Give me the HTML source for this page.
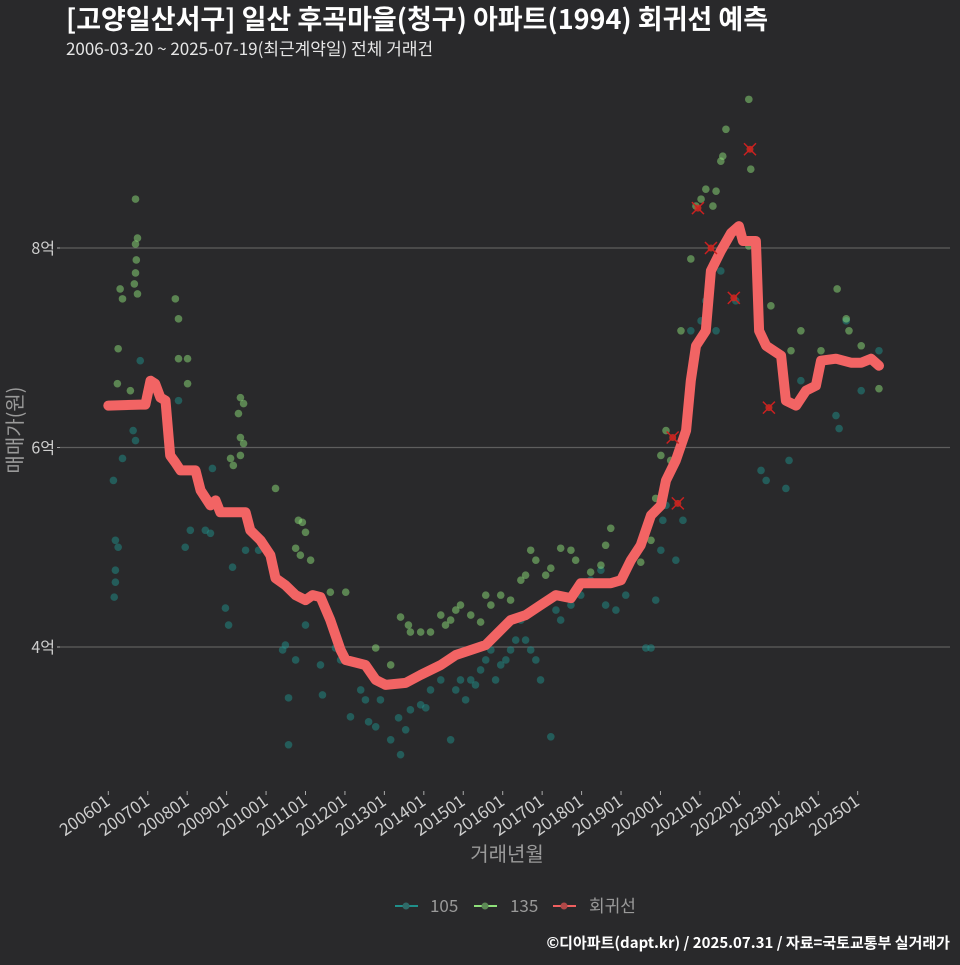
<!DOCTYPE html>
<html><head><meta charset="utf-8">
<style>
html,body{margin:0;padding:0;background:#29292b;}
body{width:960px;height:960px;overflow:hidden;font-family:"Noto Sans CJK KR","Liberation Sans",sans-serif;}
svg text{font-family:"Noto Sans CJK KR","Liberation Sans",sans-serif;}
</style></head>
<body>
<svg id="chart" width="960" height="960" viewBox="0 0 960 960">
<rect width="960" height="960" fill="#29292b"/>
<text x="66" y="29" fill="#ffffff" font-size="27" font-weight="bold">[고양일산서구] 일산 후곡마을(청구) 아파트(1994) 회귀선 예측</text>
<text x="66" y="55" fill="#e6e6e6" font-size="17">2006-03-20 ~ 2025-07-19(최근계약일) 전체 거래건</text>
<g id="grid"></g>
<g id="pts"></g>
<g id="line"></g>
<g id="outl"></g>
<g id="axes"></g>
<text x="507" y="861" fill="#9a9a9a" font-size="20" text-anchor="middle">거래년월</text>
<text transform="translate(22,430) rotate(-90)" fill="#9a9a9a" font-size="20" text-anchor="middle">매매가(원)</text>
<g>
<g><line x1="395" y1="906" x2="418" y2="906" stroke="#1f8f8a" stroke-width="2"/><circle cx="406" cy="906" r="3.5" fill="#2f6a68"/><text x="430" y="912" fill="#9a9a9a" font-size="17">105</text></g>
<g><line x1="474" y1="906" x2="497" y2="906" stroke="#8ee07a" stroke-width="2"/><circle cx="485" cy="906" r="3.5" fill="#5d8a56"/><text x="510" y="912" fill="#9a9a9a" font-size="17">135</text></g>
<g><line x1="553" y1="906" x2="576" y2="906" stroke="#f06060" stroke-width="2"/><circle cx="564" cy="906" r="3.5" fill="#b04848"/><text x="589" y="912" fill="#9a9a9a" font-size="17">회귀선</text></g>
</g>
<text x="950" y="948" fill="#ffffff" font-size="15" font-weight="bold" text-anchor="end">©디아파트(dapt.kr) / 2025.07.31 / 자료=국토교통부 실거래가</text>
</svg>
<script>
const yTicks=[4,6,8];
const xTickYears=[2006,2007,2008,2009,2010,2011,2012,2013,2014,2015,2016,2017,2018,2019,2020,2021,2022,2023,2024,2025];
const s105Year=[2006.13,2006.18,2006.25,2006.18,2006.18,2006.15,2006.36,2006.63,2006.69,2006.81,2007.78,2007.95,2008.08,2008.46,2008.59,2008.64,2008.97,2009.05,2009.15,2009.48,2009.81,2010.42,2010.49,2010.57,2010.57,2010.75,2011.00,2011.38,2011.43,2011.76,2011.89,2012.14,2012.40,2012.52,2012.60,2012.78,2012.90,2013.16,2013.36,2013.41,2013.54,2013.66,2013.92,2014.05,2014.17,2014.43,2014.68,2014.81,2014.93,2015.06,2015.19,2015.31,2015.44,2015.57,2015.70,2015.82,2015.95,2016.08,2016.20,2016.33,2016.46,2016.58,2016.71,2016.84,2016.96,2017.22,2017.35,2017.47,2017.73,2017.98,2018.23,2018.49,2018.61,2018.87,2019.12,2019.63,2019.76,2019.88,2020.01,2020.06,2020.14,2020.39,2020.57,2020.77,2021.03,2021.15,2021.41,2021.53,2021.91,2022.55,2022.68,2023.18,2023.26,2023.56,2024.45,2024.53,2024.71,2025.09,2025.54];
const s105Val=[5.67,5.07,5.00,4.77,4.65,4.50,5.89,6.17,6.07,6.87,6.47,5.00,5.17,5.17,5.14,5.79,4.39,4.22,4.80,4.97,4.97,3.97,4.02,3.49,3.02,3.87,4.22,3.82,3.52,3.99,3.87,3.30,3.57,3.47,3.25,3.20,3.47,3.07,3.29,2.92,3.17,3.37,3.42,3.39,3.57,3.67,3.07,3.57,3.67,3.47,3.67,3.62,3.77,3.87,3.97,3.67,3.82,3.87,3.97,4.07,4.27,4.07,3.97,3.87,3.67,3.10,4.37,4.27,4.42,4.52,4.67,4.77,4.42,4.37,4.52,3.99,3.99,4.47,4.97,5.27,5.42,4.87,5.27,7.17,7.27,7.47,7.17,7.77,7.47,5.77,5.67,5.59,5.87,6.67,6.32,6.19,7.27,6.57,6.97];
const s135Year=[2006.69,2006.74,2006.69,2006.71,2006.69,2006.66,2006.74,2006.30,2006.36,2006.25,2006.23,2006.56,2007.70,2007.78,2007.78,2008.01,2008.01,2009.35,2009.43,2009.30,2009.43,2009.35,2009.10,2009.17,2009.35,2010.24,2010.82,2010.92,2011.00,2010.75,2010.87,2011.13,2011.63,2012.02,2012.78,2013.16,2013.41,2013.61,2013.66,2013.92,2014.17,2014.43,2014.55,2014.68,2014.81,2014.93,2015.19,2015.44,2015.57,2015.70,2015.95,2016.20,2016.46,2016.58,2016.71,2016.84,2017.09,2017.22,2017.47,2017.73,2017.85,2018.23,2018.49,2018.61,2018.74,2019.12,2019.50,2019.76,2019.88,2020.01,2020.14,2020.26,2020.52,2020.77,2020.90,2021.03,2021.15,2021.33,2021.41,2021.53,2021.58,2021.66,2022.24,2022.29,2022.24,2022.80,2023.31,2023.56,2024.07,2024.48,2024.71,2024.78,2025.09,2025.34,2025.54];
const s135Val=[8.49,8.10,8.04,7.88,7.75,7.64,7.54,7.59,7.49,6.99,6.64,6.57,7.49,7.29,6.89,6.89,6.64,6.50,6.44,6.34,6.04,6.10,5.89,5.82,5.92,5.59,5.27,5.25,5.15,4.99,4.92,4.87,4.55,4.55,3.99,3.82,4.30,4.22,4.15,4.15,4.15,4.32,4.22,4.27,4.37,4.42,4.32,4.25,4.52,4.42,4.52,4.47,4.67,4.72,4.97,4.87,4.72,4.79,4.99,4.97,4.87,4.75,4.82,5.02,5.19,4.77,4.85,5.07,5.49,5.92,6.17,5.87,7.17,7.89,8.42,8.49,8.59,8.42,8.57,8.87,8.92,9.19,9.49,8.79,8.02,7.42,6.97,7.17,6.97,7.59,7.29,7.17,7.02,6.87,6.59];
const outYear=[2020.31,2020.44,2020.95,2021.28,2021.86,2022.27,2022.75];
const outVal=[6.10,5.44,8.40,8.00,7.50,8.99,6.40];
const regYear=[2006.0,2006.81,2006.94,2007.07,2007.19,2007.32,2007.45,2007.57,2007.70,2007.83,2008.21,2008.34,2008.59,2008.72,2008.84,2009.48,2009.60,2009.86,2010.11,2010.24,2010.49,2010.75,2011.00,2011.18,2011.38,2011.63,2011.89,2012.02,2012.52,2012.78,2013.03,2013.54,2013.92,2014.43,2014.81,2015.19,2015.57,2015.95,2016.20,2016.58,2016.96,2017.35,2017.73,2017.98,2018.74,2019.00,2019.25,2019.50,2019.76,2020.01,2020.14,2020.39,2020.65,2020.77,2020.90,2021.15,2021.28,2021.53,2021.79,2021.99,2022.09,2022.42,2022.50,2022.68,2023.06,2023.18,2023.44,2023.69,2023.94,2024.07,2024.45,2024.83,2025.09,2025.34,2025.54];
const regVal=[6.42,6.43,6.43,6.67,6.64,6.50,6.47,5.92,5.85,5.77,5.77,5.57,5.42,5.47,5.35,5.35,5.17,5.07,4.92,4.69,4.62,4.52,4.47,4.52,4.50,4.27,3.97,3.87,3.82,3.67,3.62,3.64,3.72,3.82,3.92,3.97,4.02,4.17,4.27,4.32,4.42,4.52,4.49,4.64,4.64,4.67,4.87,5.02,5.32,5.42,5.67,5.87,6.17,6.67,7.02,7.17,7.77,7.97,8.15,8.22,8.07,8.07,7.17,7.02,6.92,6.47,6.42,6.57,6.62,6.87,6.89,6.85,6.85,6.89,6.82];

const NS='http://www.w3.org/2000/svg';
function X(yr){return 108.3+(yr-2006)*39.44;}
function Y(v){return 647-(v-4)*99.75;}
function mk(tag,attrs,parent){const e=document.createElementNS(NS,tag);for(const k in attrs)e.setAttribute(k,attrs[k]);parent.appendChild(e);return e;}
const grid=document.getElementById('grid'),axes=document.getElementById('axes');
yTicks.forEach(v=>{
  const l=mk('line',{x1:60,x2:950,y1:Y(v),y2:Y(v),stroke:'#5e5e5e','stroke-width':1.2},grid);
  
  
  const t=mk('text',{x:55,y:Y(v)+6,fill:'#cfcfcf','font-size':16,'text-anchor':'end'},axes);
  t.textContent=v+'억';
  
  
  mk('line',{x1:57,x2:60,y1:Y(v),y2:Y(v),stroke:'#aaa'},axes);
});
xTickYears.forEach(yr=>{
  const x=X(yr);
  mk('line',{x1:x,x2:x,y1:791,y2:795,stroke:'#aaa'},axes);
  const t=mk('text',{transform:`translate(${x+3},${804}) rotate(-35)`,fill:'#cfcfcf','font-size':17,'text-anchor':'end'},axes);
  t.textContent=yr+'01';
  
  
});
const pts=document.getElementById('pts');
s105Year.forEach((yr,i)=>{
  const c=mk('circle',{cx:X(yr),cy:Y(s105Val[i]),r:3.8,fill:'#1f8f8a','fill-opacity':0.5},pts);
  
  
});
s135Year.forEach((yr,i)=>{
  const c=mk('circle',{cx:X(yr),cy:Y(s135Val[i]),r:3.8,fill:'#8ee07a','fill-opacity':0.5},pts);
  
  
});
const d=regYear.map((yr,i)=>(i?'L':'M')+X(yr).toFixed(1)+','+Y(regVal[i]).toFixed(1)).join(' ');
const p=mk('path',{d:d,fill:'none',stroke:'#f26464','stroke-width':10,'stroke-linejoin':'round','stroke-linecap':'round'},document.getElementById('line'));


const outl=document.getElementById('outl');
outYear.forEach((yr,i)=>{
  const x=X(yr),y=Y(outVal[i]);
  const g=mk('g',{},outl);
  
  
  mk('circle',{cx:x,cy:y,r:3.5,fill:'#d03020','fill-opacity':0.8},g);
  mk('line',{x1:x-6,y1:y-6,x2:x+6,y2:y+6,stroke:'#cc2020','stroke-width':1.5},g);
  mk('line',{x1:x-6,y1:y+6,x2:x+6,y2:y-6,stroke:'#cc2020','stroke-width':1.5},g);
});
</script>
</body></html>
